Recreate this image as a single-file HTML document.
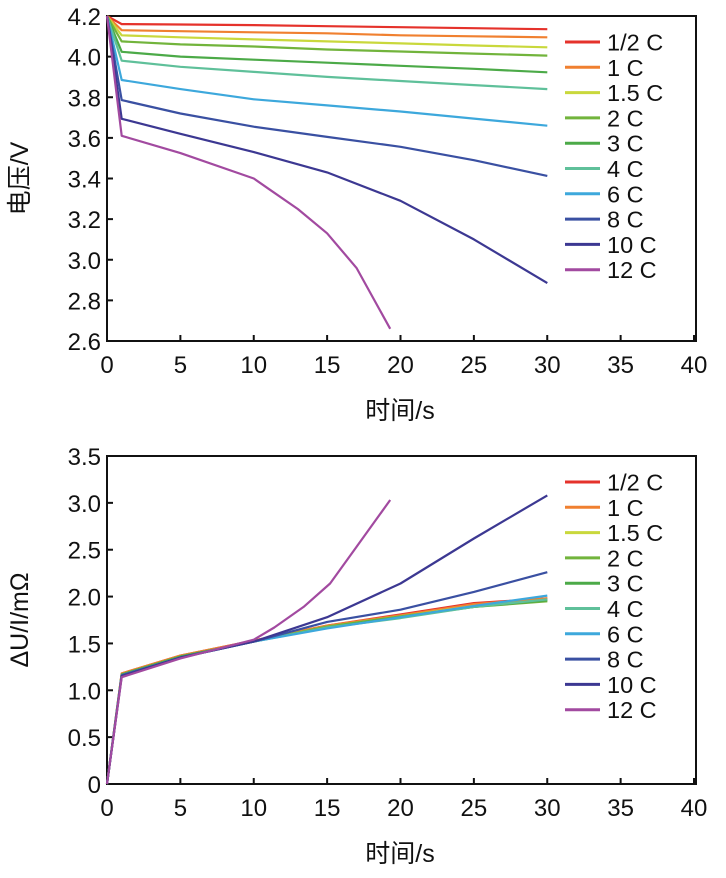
<!DOCTYPE html>
<html><head><meta charset="utf-8"><style>
html,body{margin:0;padding:0;background:#fff;}
svg text{font-family:"Liberation Sans","Noto Sans CJK SC",sans-serif;fill:#111;}
</style></head><body>
<svg id="c" width="726" height="873" xmlns="http://www.w3.org/2000/svg"></svg>
<script>
const labels=["1/2 C","1 C","1.5 C","2 C","3 C","4 C","6 C","8 C","10 C","12 C"];
const colors=["#e5322b","#f08030","#c9d83c","#72b43c","#4caa48","#5fc09a","#3da8dc","#3a50a2","#3c3892","#a24aa0"];
const topT=[0,1,5,10,15,20,25,30];
const topV=[
[4.2,4.16,4.158,4.155,4.15,4.145,4.14,4.135],
[4.2,4.13,4.125,4.12,4.115,4.105,4.1,4.095],
[4.2,4.105,4.095,4.085,4.075,4.065,4.055,4.046],
[4.2,4.075,4.06,4.05,4.035,4.025,4.015,4.005],
[4.2,4.024,4.0,3.985,3.97,3.955,3.94,3.923],
[4.2,3.98,3.95,3.925,3.9,3.88,3.86,3.84],
[4.2,3.885,3.84,3.79,3.76,3.73,3.695,3.66],
[4.2,3.786,3.72,3.655,3.605,3.556,3.49,3.413],
[4.2,3.694,3.62,3.53,3.43,3.29,3.10,2.885]
];
const t12=[0,1,5,10,11,13,15,17,19.3];
const v12=[4.2,3.61,3.525,3.40,3.35,3.25,3.13,2.96,2.66];
const botT=[0,1,5,10,15,20,25,30];
const botV=[
[0,1.18,1.37,1.53,1.69,1.81,1.93,1.98],
[0,1.18,1.37,1.53,1.69,1.80,1.92,1.98],
[0,1.17,1.36,1.52,1.68,1.79,1.90,1.96],
[0,1.17,1.36,1.52,1.68,1.79,1.89,1.95],
[0,1.17,1.36,1.52,1.67,1.78,1.89,1.96],
[0,1.16,1.35,1.52,1.67,1.77,1.89,1.97],
[0,1.16,1.35,1.52,1.66,1.78,1.90,2.01],
[0,1.16,1.35,1.52,1.73,1.86,2.05,2.26],
[0,1.15,1.35,1.52,1.78,2.14,2.62,3.08]
];
const bt12=[0,1,5,10,11.4,13.4,15.2,17,19.3];
const bv12=[0,1.14,1.34,1.54,1.67,1.89,2.14,2.53,3.03];
const xTicks=[0,5,10,15,20,25,30,35,40];
const yTicksTop=["2.6","2.8","3.0","3.2","3.4","3.6","3.8","4.0","4.2"];
const yTicksBot=["0","0.5","1.0","1.5","2.0","2.5","3.0","3.5"];

const svg=document.getElementById('c');
const NS="http://www.w3.org/2000/svg";
function mk(tag,attrs,parent){const e=document.createElementNS(NS,tag);for(const k in attrs)e.setAttribute(k,attrs[k]);(parent||svg).appendChild(e);return e;}
const X0=107,X1=694;
function sx(t){return X0+(X1-X0)*t/40;}

function panel(name,top,bottom,ymin,ymax,yTicks,series,title,legendY0){
  const g=mk('g',{});
  
  
  const sy=v=>bottom-(bottom-top)*(v-ymin)/(ymax-ymin);
  const frame=mk('rect',{x:X0,y:top,width:X1-X0+2,height:bottom-top,fill:'none',stroke:'#111','stroke-width':2},g);
  
  
  xTicks.forEach(t=>{
    const x=sx(t);
    mk('line',{x1:x,y1:bottom,x2:x,y2:bottom-6,stroke:'#111','stroke-width':2},g);
    const tx=mk('text',{x:x,y:bottom+32,'font-size':24,'text-anchor':'middle'},g);
    tx.textContent=t;
    
    
  });
  yTicks.forEach(s=>{
    const y=sy(parseFloat(s));
    mk('line',{x1:X0,y1:y,x2:X0+6,y2:y,stroke:'#111','stroke-width':2},g);
    const tx=mk('text',{x:X0-6,y:y+9,'font-size':24,'text-anchor':'end'},g);
    tx.textContent=s;
    
    
  });
  series.forEach((s,i)=>{
    const d=s.t.map((t,j)=>(j?'L':'M')+sx(t).toFixed(1)+','+sy(s.v[j]).toFixed(1)).join('');
    const p=mk('path',{d:d,fill:'none',stroke:colors[i],'stroke-width':2.2,'stroke-linejoin':'round'},g);
    
    
    const ly=legendY0+i*25.3;
    const lg=mk('g',{},g);
    
    
    mk('line',{x1:565,y1:ly,x2:600,y2:ly,stroke:colors[i],'stroke-width':3},lg);
    const lt=mk('text',{x:607,y:ly+8.5,'font-size':23.5},lg);
    lt.textContent=labels[i];
  });
  const xt=mk('text',{x:400,y:bottom+78,'font-size':25,'text-anchor':'middle'},g);
  xt.textContent="时间/s";
  
  
  const cy=(top+bottom)/2;
  const yt=mk('text',{x:28,y:cy,'font-size':25,'text-anchor':'middle',transform:'rotate(-90 28 '+cy+')'},g);
  yt.textContent=title;
  
  
}
const topSeries=topV.map(v=>({t:topT,v:v}));topSeries.push({t:t12,v:v12});
const botSeries=botV.map(v=>({t:botT,v:v}));botSeries.push({t:bt12,v:bv12});
panel('voltage-panel',16,341,2.6,4.2,yTicksTop,topSeries,'电压/V',42);
panel('resistance-panel',456,784,0,3.5,yTicksBot,botSeries,'ΔU/I/mΩ',482);
</script>
</body></html>
